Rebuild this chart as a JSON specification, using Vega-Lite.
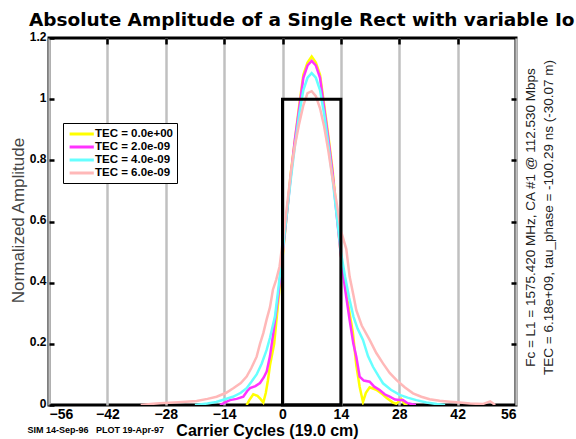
{
  "$schema": "https://vega.github.io/schema/vega-lite/v6.json",
  "width": 467,
  "height": 367,
  "autosize": {"type": "none"},
  "padding": {"left": 49, "top": 38, "right": 60, "bottom": 34},
  "background": "white",
  "config": {"view": {"stroke": "black", "strokeWidth": 3}, "font": "Liberation Sans"},
  "title": {"text": "Absolute Amplitude of a Single Rect with variable Io", "anchor": "start", "frame": "group", "dx": -20, "dy": 13, "offset": 14, "font": "DejaVu Sans", "fontSize": 18.5, "fontWeight": "bold", "color": "black"},
  "datasets": {
    "curves": [
      {"x": -8.6, "amp": 0, "tec": "TEC = 0.0e+00"},
      {"x": -8, "amp": 0.015, "tec": "TEC = 0.0e+00"},
      {"x": -7, "amp": 0.035, "tec": "TEC = 0.0e+00"},
      {"x": -6, "amp": 0.03, "tec": "TEC = 0.0e+00"},
      {"x": -5.3, "amp": 0.02, "tec": "TEC = 0.0e+00"},
      {"x": -4.6, "amp": 0.008, "tec": "TEC = 0.0e+00"},
      {"x": -4, "amp": 0.04, "tec": "TEC = 0.0e+00"},
      {"x": -3.5, "amp": 0.08, "tec": "TEC = 0.0e+00"},
      {"x": -3, "amp": 0.13, "tec": "TEC = 0.0e+00"},
      {"x": -2, "amp": 0.2, "tec": "TEC = 0.0e+00"},
      {"x": -1, "amp": 0.34, "tec": "TEC = 0.0e+00"},
      {"x": 0, "amp": 0.48, "tec": "TEC = 0.0e+00"},
      {"x": 1, "amp": 0.62, "tec": "TEC = 0.0e+00"},
      {"x": 2, "amp": 0.76, "tec": "TEC = 0.0e+00"},
      {"x": 3, "amp": 0.87, "tec": "TEC = 0.0e+00"},
      {"x": 4, "amp": 0.98, "tec": "TEC = 0.0e+00"},
      {"x": 5, "amp": 1.08, "tec": "TEC = 0.0e+00"},
      {"x": 6, "amp": 1.12, "tec": "TEC = 0.0e+00"},
      {"x": 7, "amp": 1.14, "tec": "TEC = 0.0e+00"},
      {"x": 8, "amp": 1.12, "tec": "TEC = 0.0e+00"},
      {"x": 9, "amp": 1.08, "tec": "TEC = 0.0e+00"},
      {"x": 10, "amp": 0.98, "tec": "TEC = 0.0e+00"},
      {"x": 11, "amp": 0.88, "tec": "TEC = 0.0e+00"},
      {"x": 12, "amp": 0.77, "tec": "TEC = 0.0e+00"},
      {"x": 13, "amp": 0.63, "tec": "TEC = 0.0e+00"},
      {"x": 14, "amp": 0.49, "tec": "TEC = 0.0e+00"},
      {"x": 15, "amp": 0.4, "tec": "TEC = 0.0e+00"},
      {"x": 15.6, "amp": 0.34, "tec": "TEC = 0.0e+00"},
      {"x": 16.9, "amp": 0.235, "tec": "TEC = 0.0e+00"},
      {"x": 17.7, "amp": 0.13, "tec": "TEC = 0.0e+00"},
      {"x": 18.5, "amp": 0.06, "tec": "TEC = 0.0e+00"},
      {"x": 19.3, "amp": 0.01, "tec": "TEC = 0.0e+00"},
      {"x": 20, "amp": 0.04, "tec": "TEC = 0.0e+00"},
      {"x": 20.9, "amp": 0.058, "tec": "TEC = 0.0e+00"},
      {"x": 22.5, "amp": 0.05, "tec": "TEC = 0.0e+00"},
      {"x": 24, "amp": 0.035, "tec": "TEC = 0.0e+00"},
      {"x": 25, "amp": 0.023, "tec": "TEC = 0.0e+00"},
      {"x": 26.5, "amp": 0.008, "tec": "TEC = 0.0e+00"},
      {"x": 27.3, "amp": 0.004, "tec": "TEC = 0.0e+00"},
      {"x": 28.5, "amp": 0.02, "tec": "TEC = 0.0e+00"},
      {"x": 29.3, "amp": 0.003, "tec": "TEC = 0.0e+00"},
      {"x": 30, "amp": 0, "tec": "TEC = 0.0e+00"},

      {"x": -15, "amp": 0, "tec": "TEC = 2.0e-09"},
      {"x": -13.5, "amp": 0.01, "tec": "TEC = 2.0e-09"},
      {"x": -12.6, "amp": 0.016, "tec": "TEC = 2.0e-09"},
      {"x": -11, "amp": 0.02, "tec": "TEC = 2.0e-09"},
      {"x": -9.4, "amp": 0.027, "tec": "TEC = 2.0e-09"},
      {"x": -8.5, "amp": 0.045, "tec": "TEC = 2.0e-09"},
      {"x": -7.8, "amp": 0.055, "tec": "TEC = 2.0e-09"},
      {"x": -6.5, "amp": 0.062, "tec": "TEC = 2.0e-09"},
      {"x": -5.4, "amp": 0.072, "tec": "TEC = 2.0e-09"},
      {"x": -4.5, "amp": 0.09, "tec": "TEC = 2.0e-09"},
      {"x": -3.8, "amp": 0.109, "tec": "TEC = 2.0e-09"},
      {"x": -3, "amp": 0.16, "tec": "TEC = 2.0e-09"},
      {"x": -2.2, "amp": 0.235, "tec": "TEC = 2.0e-09"},
      {"x": -1, "amp": 0.36, "tec": "TEC = 2.0e-09"},
      {"x": 0, "amp": 0.49, "tec": "TEC = 2.0e-09"},
      {"x": 1, "amp": 0.62, "tec": "TEC = 2.0e-09"},
      {"x": 2, "amp": 0.75, "tec": "TEC = 2.0e-09"},
      {"x": 3, "amp": 0.87, "tec": "TEC = 2.0e-09"},
      {"x": 4, "amp": 0.97, "tec": "TEC = 2.0e-09"},
      {"x": 5, "amp": 1.07, "tec": "TEC = 2.0e-09"},
      {"x": 6, "amp": 1.11, "tec": "TEC = 2.0e-09"},
      {"x": 7, "amp": 1.125, "tec": "TEC = 2.0e-09"},
      {"x": 8, "amp": 1.11, "tec": "TEC = 2.0e-09"},
      {"x": 9, "amp": 1.07, "tec": "TEC = 2.0e-09"},
      {"x": 10, "amp": 0.97, "tec": "TEC = 2.0e-09"},
      {"x": 11, "amp": 0.87, "tec": "TEC = 2.0e-09"},
      {"x": 12, "amp": 0.76, "tec": "TEC = 2.0e-09"},
      {"x": 13, "amp": 0.62, "tec": "TEC = 2.0e-09"},
      {"x": 14, "amp": 0.49, "tec": "TEC = 2.0e-09"},
      {"x": 15, "amp": 0.38, "tec": "TEC = 2.0e-09"},
      {"x": 16.1, "amp": 0.278, "tec": "TEC = 2.0e-09"},
      {"x": 17, "amp": 0.2, "tec": "TEC = 2.0e-09"},
      {"x": 17.7, "amp": 0.158, "tec": "TEC = 2.0e-09"},
      {"x": 18.5, "amp": 0.093, "tec": "TEC = 2.0e-09"},
      {"x": 19.5, "amp": 0.08, "tec": "TEC = 2.0e-09"},
      {"x": 20.9, "amp": 0.076, "tec": "TEC = 2.0e-09"},
      {"x": 22, "amp": 0.06, "tec": "TEC = 2.0e-09"},
      {"x": 23.3, "amp": 0.049, "tec": "TEC = 2.0e-09"},
      {"x": 24.5, "amp": 0.035, "tec": "TEC = 2.0e-09"},
      {"x": 25.7, "amp": 0.027, "tec": "TEC = 2.0e-09"},
      {"x": 27, "amp": 0.018, "tec": "TEC = 2.0e-09"},
      {"x": 28.1, "amp": 0.016, "tec": "TEC = 2.0e-09"},
      {"x": 28.9, "amp": 0.016, "tec": "TEC = 2.0e-09"},
      {"x": 30, "amp": 0.006, "tec": "TEC = 2.0e-09"},
      {"x": 32, "amp": 0, "tec": "TEC = 2.0e-09"},

      {"x": -21, "amp": 0, "tec": "TEC = 4.0e-09"},
      {"x": -18, "amp": 0.005, "tec": "TEC = 4.0e-09"},
      {"x": -15.9, "amp": 0.01, "tec": "TEC = 4.0e-09"},
      {"x": -14, "amp": 0.018, "tec": "TEC = 4.0e-09"},
      {"x": -11.9, "amp": 0.027, "tec": "TEC = 4.0e-09"},
      {"x": -10, "amp": 0.04, "tec": "TEC = 4.0e-09"},
      {"x": -8.6, "amp": 0.055, "tec": "TEC = 4.0e-09"},
      {"x": -7.5, "amp": 0.075, "tec": "TEC = 4.0e-09"},
      {"x": -6.2, "amp": 0.1, "tec": "TEC = 4.0e-09"},
      {"x": -5, "amp": 0.135, "tec": "TEC = 4.0e-09"},
      {"x": -3.8, "amp": 0.18, "tec": "TEC = 4.0e-09"},
      {"x": -3, "amp": 0.22, "tec": "TEC = 4.0e-09"},
      {"x": -1.8, "amp": 0.29, "tec": "TEC = 4.0e-09"},
      {"x": -1, "amp": 0.38, "tec": "TEC = 4.0e-09"},
      {"x": 0, "amp": 0.5, "tec": "TEC = 4.0e-09"},
      {"x": 1, "amp": 0.62, "tec": "TEC = 4.0e-09"},
      {"x": 2, "amp": 0.74, "tec": "TEC = 4.0e-09"},
      {"x": 3, "amp": 0.85, "tec": "TEC = 4.0e-09"},
      {"x": 4, "amp": 0.95, "tec": "TEC = 4.0e-09"},
      {"x": 5, "amp": 1.03, "tec": "TEC = 4.0e-09"},
      {"x": 6, "amp": 1.07, "tec": "TEC = 4.0e-09"},
      {"x": 7, "amp": 1.085, "tec": "TEC = 4.0e-09"},
      {"x": 8, "amp": 1.07, "tec": "TEC = 4.0e-09"},
      {"x": 9, "amp": 1.03, "tec": "TEC = 4.0e-09"},
      {"x": 10, "amp": 0.95, "tec": "TEC = 4.0e-09"},
      {"x": 11, "amp": 0.85, "tec": "TEC = 4.0e-09"},
      {"x": 12, "amp": 0.74, "tec": "TEC = 4.0e-09"},
      {"x": 13, "amp": 0.62, "tec": "TEC = 4.0e-09"},
      {"x": 14, "amp": 0.5, "tec": "TEC = 4.0e-09"},
      {"x": 15, "amp": 0.42, "tec": "TEC = 4.0e-09"},
      {"x": 16, "amp": 0.35, "tec": "TEC = 4.0e-09"},
      {"x": 17, "amp": 0.29, "tec": "TEC = 4.0e-09"},
      {"x": 18, "amp": 0.25, "tec": "TEC = 4.0e-09"},
      {"x": 19.3, "amp": 0.213, "tec": "TEC = 4.0e-09"},
      {"x": 20.5, "amp": 0.16, "tec": "TEC = 4.0e-09"},
      {"x": 21.7, "amp": 0.125, "tec": "TEC = 4.0e-09"},
      {"x": 23, "amp": 0.095, "tec": "TEC = 4.0e-09"},
      {"x": 24.1, "amp": 0.071, "tec": "TEC = 4.0e-09"},
      {"x": 26, "amp": 0.05, "tec": "TEC = 4.0e-09"},
      {"x": 28.1, "amp": 0.033, "tec": "TEC = 4.0e-09"},
      {"x": 30, "amp": 0.024, "tec": "TEC = 4.0e-09"},
      {"x": 32.1, "amp": 0.016, "tec": "TEC = 4.0e-09"},
      {"x": 34.5, "amp": 0.008, "tec": "TEC = 4.0e-09"},
      {"x": 37, "amp": 0.003, "tec": "TEC = 4.0e-09"},
      {"x": 39, "amp": 0, "tec": "TEC = 4.0e-09"},

      {"x": -34, "amp": 0, "tec": "TEC = 6.0e-09"},
      {"x": -31, "amp": 0.004, "tec": "TEC = 6.0e-09"},
      {"x": -29.4, "amp": 0.006, "tec": "TEC = 6.0e-09"},
      {"x": -25, "amp": 0.009, "tec": "TEC = 6.0e-09"},
      {"x": -20.6, "amp": 0.013, "tec": "TEC = 6.0e-09"},
      {"x": -18, "amp": 0.02, "tec": "TEC = 6.0e-09"},
      {"x": -15.8, "amp": 0.027, "tec": "TEC = 6.0e-09"},
      {"x": -13.5, "amp": 0.04, "tec": "TEC = 6.0e-09"},
      {"x": -11.8, "amp": 0.055, "tec": "TEC = 6.0e-09"},
      {"x": -10, "amp": 0.072, "tec": "TEC = 6.0e-09"},
      {"x": -8.6, "amp": 0.093, "tec": "TEC = 6.0e-09"},
      {"x": -7.5, "amp": 0.12, "tec": "TEC = 6.0e-09"},
      {"x": -6.2, "amp": 0.158, "tec": "TEC = 6.0e-09"},
      {"x": -5.4, "amp": 0.2, "tec": "TEC = 6.0e-09"},
      {"x": -4.6, "amp": 0.235, "tec": "TEC = 6.0e-09"},
      {"x": -3.8, "amp": 0.28, "tec": "TEC = 6.0e-09"},
      {"x": -3, "amp": 0.32, "tec": "TEC = 6.0e-09"},
      {"x": -2.3, "amp": 0.377, "tec": "TEC = 6.0e-09"},
      {"x": -1.5, "amp": 0.41, "tec": "TEC = 6.0e-09"},
      {"x": -0.7, "amp": 0.453, "tec": "TEC = 6.0e-09"},
      {"x": 0, "amp": 0.53, "tec": "TEC = 6.0e-09"},
      {"x": 1, "amp": 0.64, "tec": "TEC = 6.0e-09"},
      {"x": 2, "amp": 0.76, "tec": "TEC = 6.0e-09"},
      {"x": 3, "amp": 0.85, "tec": "TEC = 6.0e-09"},
      {"x": 4, "amp": 0.92, "tec": "TEC = 6.0e-09"},
      {"x": 5, "amp": 0.98, "tec": "TEC = 6.0e-09"},
      {"x": 6, "amp": 1.02, "tec": "TEC = 6.0e-09"},
      {"x": 7, "amp": 1.026, "tec": "TEC = 6.0e-09"},
      {"x": 8, "amp": 1.01, "tec": "TEC = 6.0e-09"},
      {"x": 9, "amp": 0.97, "tec": "TEC = 6.0e-09"},
      {"x": 10, "amp": 0.91, "tec": "TEC = 6.0e-09"},
      {"x": 11, "amp": 0.83, "tec": "TEC = 6.0e-09"},
      {"x": 12, "amp": 0.74, "tec": "TEC = 6.0e-09"},
      {"x": 13, "amp": 0.66, "tec": "TEC = 6.0e-09"},
      {"x": 14, "amp": 0.57, "tec": "TEC = 6.0e-09"},
      {"x": 15.3, "amp": 0.51, "tec": "TEC = 6.0e-09"},
      {"x": 16.1, "amp": 0.42, "tec": "TEC = 6.0e-09"},
      {"x": 17, "amp": 0.36, "tec": "TEC = 6.0e-09"},
      {"x": 17.7, "amp": 0.31, "tec": "TEC = 6.0e-09"},
      {"x": 19, "amp": 0.26, "tec": "TEC = 6.0e-09"},
      {"x": 20.9, "amp": 0.213, "tec": "TEC = 6.0e-09"},
      {"x": 22.5, "amp": 0.17, "tec": "TEC = 6.0e-09"},
      {"x": 24.1, "amp": 0.136, "tec": "TEC = 6.0e-09"},
      {"x": 25.7, "amp": 0.105, "tec": "TEC = 6.0e-09"},
      {"x": 27.3, "amp": 0.082, "tec": "TEC = 6.0e-09"},
      {"x": 29.3, "amp": 0.058, "tec": "TEC = 6.0e-09"},
      {"x": 31.3, "amp": 0.038, "tec": "TEC = 6.0e-09"},
      {"x": 33.3, "amp": 0.027, "tec": "TEC = 6.0e-09"},
      {"x": 35.3, "amp": 0.019, "tec": "TEC = 6.0e-09"},
      {"x": 37.7, "amp": 0.014, "tec": "TEC = 6.0e-09"},
      {"x": 40.1, "amp": 0.011, "tec": "TEC = 6.0e-09"},
      {"x": 42.5, "amp": 0.008, "tec": "TEC = 6.0e-09"},
      {"x": 45, "amp": 0.005, "tec": "TEC = 6.0e-09"},
      {"x": 48, "amp": 0.003, "tec": "TEC = 6.0e-09"},
      {"x": 49, "amp": 0.008, "tec": "TEC = 6.0e-09"},
      {"x": 49.8, "amp": 0.012, "tec": "TEC = 6.0e-09"},
      {"x": 50.6, "amp": 0.004, "tec": "TEC = 6.0e-09"},
      {"x": 51, "amp": 0, "tec": "TEC = 6.0e-09"}
    ],
    "rect": [
      {"start": 0, "end": 14, "lo": 0, "hi": 1}
    ]
  },
  "layer": [
    {
      "data": {"name": "curves"},
      "mark": {"type": "line", "strokeWidth": 2.5, "clip": true},
      "encoding": {
        "x": {
          "field": "x", "type": "quantitative",
          "scale": {"domain": [-56, 56], "nice": false, "zero": false},
          "axis": {
            "orient": "bottom", "values": [-56, -42, -28, -14, 0, 14, 28, 42, 56],
            "grid": true, "gridColor": "#c0c0c0", "gridWidth": 2.5, "gridOpacity": 1,
            "ticks": false, "domain": false,
            "labelFont": "Liberation Sans", "labelFontSize": 14, "labelFontWeight": "bold", "labelColor": "black", "labelPadding": 2,
            "title": "Carrier Cycles (19.0 cm)", "titleFont": "Liberation Sans", "titleFontSize": 16, "titleFontWeight": "bold", "titleColor": "black",
            "titleX": 218, "titleY": 30, "titleBaseline": "alphabetic", "titleAnchor": "middle"
          }
        },
        "y": {
          "field": "amp", "type": "quantitative",
          "scale": {"domain": [0, 1.2], "nice": false, "zero": false},
          "axis": {
            "orient": "left", "values": [0, 0.2, 0.4, 0.6, 0.8, 1, 1.2], "format": ".1~f",
            "grid": false, "domain": false,
            "ticks": true, "tickSize": -5, "tickWidth": 2.5, "tickColor": "black",
            "labelFont": "Liberation Sans", "labelFontSize": 12, "labelFontWeight": "bold", "labelColor": "black", "labelPadding": 8, "labelOffset": -2,
            "title": "Normalized Amplitude", "titleFont": "Liberation Sans", "titleFontSize": 17, "titleFontWeight": "normal", "titleColor": "#444444",
            "titleX": -31, "titleY": 182, "titleBaseline": "middle", "titleAngle": 270
          }
        },
        "color": {
          "field": "tec", "type": "nominal",
          "scale": {"domain": ["TEC = 0.0e+00", "TEC = 2.0e-09", "TEC = 4.0e-09", "TEC = 6.0e-09"], "range": ["#ffff00", "#ff33ff", "#66ffff", "#ffb8b8"]},
          "legend": {
            "orient": "none", "legendX": 14, "legendY": 85, "title": null,
            "symbolType": "M-0.8,0H3.6", "symbolSize": 121, "symbolStrokeWidth": 3,
            "labelFont": "Liberation Sans", "labelFontSize": 11.5, "labelFontWeight": "bold", "labelColor": "black", "labelOffset": 14,
            "strokeColor": "black", "fillColor": "white", "padding": 4, "rowPadding": 0,
            "encoding": {"legend": {"update": {"strokeWidth": {"value": 3}}}}
          }
        }
      }
    },
    {
      "data": {"name": "rect"},
      "mark": {"type": "rect", "filled": false, "stroke": "black", "strokeWidth": 3},
      "encoding": {
        "x": {
          "field": "start", "type": "quantitative",
          "axis": {
            "orient": "top", "values": [-42, -28, -14, 0, 14, 28, 42], "labels": false, "grid": false,
            "ticks": true, "tickSize": -6, "tickWidth": 2.5, "tickColor": "black", "domain": false, "zindex": 1,
            "title": "SIM 14-Sep-96\u00a0\u00a0 PLOT 19-Apr-97", "titleFont": "Liberation Sans", "titleFontSize": 9, "titleFontWeight": "bold", "titleColor": "black",
            "titleX": -22, "titleY": 394, "titleAlign": "left", "titleBaseline": "alphabetic", "titleAnchor": "start"
          }
        },
        "x2": {"field": "end"},
        "y": {
          "field": "lo", "type": "quantitative",
          "axis": {
            "orient": "right", "values": [0.2, 0.4, 0.6, 0.8, 1], "labels": false, "grid": false,
            "ticks": true, "tickSize": -5, "tickWidth": 2.5, "tickColor": "black", "domain": false, "zindex": 1,
            "title": ["Fc = L1 = 1575.420 MHz, CA #1 @ 112.530 Mbps", "TEC = 6.18e+09, tau_phase = -100.29 ns (-30.07 m)"],
            "titleFont": "Liberation Sans", "titleFontSize": 13.5, "titleFontWeight": "normal", "titleColor": "#222222",
            "titleAngle": 270, "titleX": 18, "titleY": 179, "titleAlign": "center", "titleBaseline": "alphabetic", "titleLineHeight": 18
          }
        },
        "y2": {"field": "hi"}
      }
    }
  ],
  "resolve": {"axis": {"x": "independent", "y": "independent"}}
}
